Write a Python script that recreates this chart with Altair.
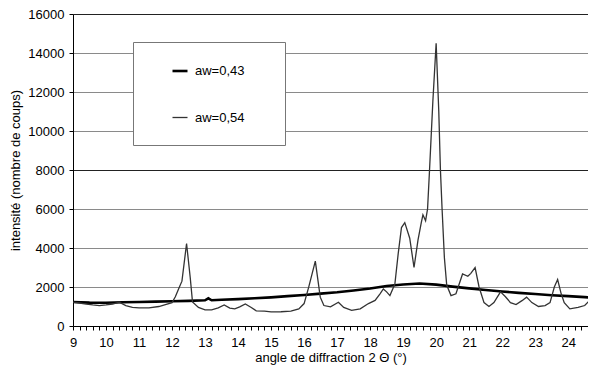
import altair as alt
import pandas as pd

# aw=0,43 (thick black, broad hump)
x43 = [9.0, 9.5, 10.0, 10.5, 11.0, 11.5, 12.0, 12.5, 13.0, 13.1, 13.2, 13.5, 14.0, 14.5,
       15.0, 15.5, 16.0, 16.5, 17.0, 17.5, 18.0, 18.5, 19.0, 19.5, 20.0, 20.5, 21.0,
       21.5, 22.0, 22.5, 23.0, 23.5, 24.0, 24.5, 24.7]
y43 = [1230, 1200, 1190, 1220, 1230, 1250, 1270, 1290, 1320, 1420, 1320, 1350, 1380, 1420,
       1470, 1530, 1590, 1660, 1730, 1820, 1920, 2050, 2130, 2180, 2120, 2020, 1930,
       1850, 1770, 1700, 1640, 1580, 1530, 1480, 1460]

# aw=0,54 (thin grey, peaks)
x54 = [9.0, 9.2, 9.4, 9.6, 9.8, 10.0, 10.2, 10.4, 10.6, 10.8, 11.0, 11.3, 11.6, 11.8,
       12.0, 12.1, 12.22, 12.3, 12.44, 12.55, 12.62, 12.8, 13.0, 13.2, 13.4, 13.58,
       13.75, 13.9, 14.05, 14.22, 14.4, 14.55, 14.8, 15.0, 15.3, 15.6, 15.84, 16.0,
       16.14, 16.34, 16.49, 16.6, 16.8, 17.04, 17.2, 17.44, 17.7, 17.95, 18.15, 18.3,
       18.4, 18.5, 18.6, 18.75, 18.85, 18.95, 19.05, 19.2, 19.33, 19.45, 19.55, 19.6,
       19.68, 19.74, 19.8, 19.9, 20.0, 20.08, 20.13, 20.18, 20.25, 20.32, 20.45, 20.6,
       20.8, 20.96, 21.05, 21.18, 21.3, 21.45, 21.6, 21.75, 21.95, 22.1, 22.25, 22.42,
       22.6, 22.74, 22.9, 23.1, 23.3, 23.45, 23.58, 23.68, 23.78, 23.88, 24.05, 24.3,
       24.5, 24.7]
y54 = [1220, 1180, 1120, 1080, 1050, 1080, 1120, 1220, 1050, 950, 930, 930, 1000, 1100,
       1200, 1500, 1990, 2300, 4230, 2500, 1230, 950, 830, 830, 930, 1080,
       920, 880, 980, 1130, 950, 780, 760, 720, 730, 760, 880, 1150,
       1990, 3330, 1480, 1050, 980, 1220, 950, 800, 880, 1150, 1310, 1650,
       1900, 1750, 1560, 2150, 3700, 5050, 5300, 4500, 3000, 4400, 5300, 5700,
       5400, 6000, 8000, 11500, 14500, 11000, 8000, 6000, 3500, 2100, 1560, 1650,
       2670, 2550, 2700, 3000, 2000, 1200, 1000, 1200, 1750, 1500, 1200, 1100,
       1300, 1480, 1200, 1000, 1050, 1200, 2000, 2380, 1700, 1200, 880, 950,
       1050, 1400]

series_names = ["aw=0,43", "aw=0,54"]
y_ticks = [0, 2000, 4000, 6000, 8000, 10000, 12000, 14000, 16000]
x_ticks = [round(9 + 0.2 * i, 1) for i in range(79)]

rows = []
for xv, yv in zip(x43, y43):
    rows.append({"angle": xv, "intens": yv, "serie": series_names[0]})
for xv, yv in zip(x54, y54):
    rows.append({"angle": xv, "intens": yv, "serie": series_names[1]})
df = pd.DataFrame(rows)

FONT = "Liberation Sans"

chart = alt.Chart(df).mark_line(interpolate="linear", clip=True).encode(
    x=alt.X("angle:Q",
            scale=alt.Scale(domain=[9, 24.6], nice=False, zero=False),
            axis=alt.Axis(values=x_ticks,
                          labelExpr="abs(datum.value - round(datum.value)) < 0.001 ? datum.value : ''",
                          grid=False, tickSize=4, tickColor="black", domainColor="black",
                          labelPadding=6, labelFontSize=13, labelColor="black",
                          labelFont=FONT, labelFlush=False,
                          title="angle de diffraction 2 Θ (°)", titleFont=FONT,
                          titleFontSize=13, titleFontWeight="normal", titleColor="black",
                          titlePadding=2)),
    y=alt.Y("intens:Q",
            scale=alt.Scale(domain=[0, 16000], nice=False),
            axis=alt.Axis(values=y_ticks, format="d",
                          grid=True,
                          gridColor={"condition": {"test": "datum.value == 8000 || datum.value == 16000",
                                                   "value": "#222222"},
                                     "value": "#8a8a8a"},
                          tickSize=4, tickColor="black", domainColor="black",
                          labelPadding=5, labelFontSize=13, labelColor="black",
                          labelFont=FONT,
                          title="intensité (nombre de coups)", titleFont=FONT,
                          titleFontSize=13, titleFontWeight="normal", titleColor="black",
                          titlePadding=5)),
    color=alt.Color("serie:N",
                    scale=alt.Scale(domain=series_names, range=["#000000", "#333333"]),
                    legend=alt.Legend(title=None, orient="none", legendX=60, legendY=28,
                                      padding=20, rowPadding=31,
                                      strokeColor="#777777", fillColor="white",
                                      symbolType="stroke", symbolSize=225, symbolOffset=18,
                                      labelOffset=6, labelFont=FONT, labelFontSize=13,
                                      labelColor="black",
                                      labelExpr="datum.label + '\u2800\u2800'")),
    strokeWidth=alt.StrokeWidth("serie:N",
                                scale=alt.Scale(domain=series_names, range=[2.6, 1.3]),
                                legend=None),
    detail="serie:N",
).properties(
    width=515, height=312,
    autosize=alt.AutoSizeParams(type="none"),
    padding={"left": 65, "top": 6, "right": 0, "bottom": 39},
).configure_view(stroke=None).configure(background="white")

chart.save("out.html", embed_options={"renderer": "svg", "actions": False})
